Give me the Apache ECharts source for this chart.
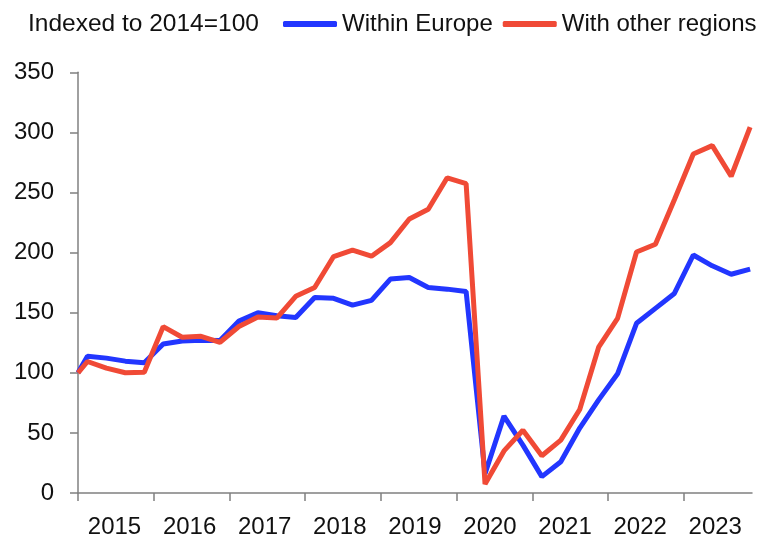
<!DOCTYPE html>
<html>
<head>
<meta charset="utf-8">
<script src="https://cdn.jsdelivr.net/npm/echarts@6/dist/echarts.min.js"></script>
<style>
html,body{margin:0;padding:0;background:#fff;}
#chart{width:765px;height:539px;}
</style>
</head>
<body>
<div id="chart"></div>
<script>
// ---- data ----
const baseLabel = '2014';
const baseValue = 100;
const quarters = [
  '2015Q1','2015Q2','2015Q3','2015Q4',
  '2016Q1','2016Q2','2016Q3','2016Q4',
  '2017Q1','2017Q2','2017Q3','2017Q4',
  '2018Q1','2018Q2','2018Q3','2018Q4',
  '2019Q1','2019Q2','2019Q3','2019Q4',
  '2020Q1','2020Q2','2020Q3','2020Q4',
  '2021Q1','2021Q2','2021Q3','2021Q4',
  '2022Q1','2022Q2','2022Q3','2022Q4',
  '2023Q1','2023Q2','2023Q3','2023Q4'
];
const withinEurope = [
  113.8, 112.2, 109.7, 108.3,
  124.0, 126.5, 127.0, 126.8,
  143.0, 150.0, 147.5, 146.0,
  162.7, 162.0, 156.3, 160.2,
  178.0, 179.3, 171.0, 169.6,
  167.7, 16.0, 64.0, 39.8,
  13.6, 26.0, 54.0, 77.5,
  99.2, 141.2, 153.6, 166.0,
  198.0, 189.0, 182.0, 186.2
];
const withOtherRegions = [
  109.4, 103.9, 100.0, 100.5,
  138.4, 129.6, 130.4, 125.4,
  138.5, 146.5, 145.5, 163.6,
  171.0, 196.7, 202.0, 197.0,
  208.3, 228.0, 236.0, 262.2,
  257.4, 7.5, 35.0, 52.2,
  31.0, 44.0, 69.5, 121.3,
  145.3, 200.5, 206.9, 244.0,
  282.0, 289.0, 263.5, 304.4
];
const years = ['2015','2016','2017','2018','2019','2020','2021','2022','2023'];
const yTicks = [0, 50, 100, 150, 200, 250, 300, 350];
const seriesNames = ['Within Europe', 'With other regions'];
const subtitle = 'Indexed to 2014=100';

// ---- build positions ----
function qPos(label) {
  const y = parseInt(label.slice(0, 4), 10);
  const q = parseInt(label.slice(5), 10);
  return y + (q - 0.5) / 4;
}
const basePos = parseInt(baseLabel, 10) + 1;
function build(vals) {
  const out = [[basePos, baseValue]];
  quarters.forEach((q, i) => out.push([qPos(q), vals[i]]));
  return out;
}
const yearNums = years.map(Number);
const labelPos = yearNums.map(y => y + 0.482 - 0.0084 * (y - yearNums[0]));

const FONT = '"Liberation Sans", Arial, Helvetica, sans-serif';
const TXT = '#111111';
const AX = '#808080';

const chart = echarts.init(document.getElementById('chart'), null, {renderer: 'canvas'});
chart.setOption({
  animation: false,
  backgroundColor: '#ffffff',
  title: {
    text: subtitle,
    left: 28, top: 12, padding: 0,
    textStyle: {fontFamily: FONT, fontSize: 24.5, fontWeight: 'normal', color: TXT}
  },
  legend: {
    data: seriesNames,
    left: 283, right: 0, top: 12, padding: 0,
    icon: 'roundRect',
    itemWidth: 54, itemHeight: 6,
    itemGap: 10,
    textStyle: {fontFamily: FONT, fontSize: 24, color: TXT}
  },
  grid: {left: 78, right: 13, top: 72.3, bottom: 44.3, containLabel: false},
  xAxis: {
    type: 'value',
    min: yearNums[0],
    max: 2023.9,
    splitLine: {show: false},
    axisLine: {show: true, onZero: false, lineStyle: {color: AX, width: 1.5}},
    axisTick: {show: true, inside: false, length: 8, customValues: yearNums, lineStyle: {color: AX, width: 1.5}},
    axisLabel: {
      customValues: labelPos,
      formatter: v => String(Math.floor(v + 0.05)),
      fontFamily: FONT, fontSize: 24, color: TXT, margin: 22
    }
  },
  yAxis: {
    type: 'value',
    min: 0, max: 350, interval: 50,
    splitLine: {show: false},
    axisLine: {show: true, lineStyle: {color: AX, width: 1.5}},
    axisTick: {show: true, inside: false, length: 8, lineStyle: {color: AX, width: 1.5}},
    axisLabel: {
      fontFamily: FONT, fontSize: 24, color: TXT, margin: 24,
      formatter: v => (yTicks.indexOf(v) >= 0 ? String(v) : '')
    }
  },
  series: [
    {
      name: seriesNames[0], type: 'line', data: build(withinEurope),
      showSymbol: false, symbol: 'none',
      color: '#2236FF',
      lineStyle: {width: 5, color: '#2236FF'},
      z: 2
    },
    {
      name: seriesNames[1], type: 'line', data: build(withOtherRegions),
      showSymbol: false, symbol: 'none',
      color: '#F04A36',
      lineStyle: {width: 5, color: '#F04A36'},
      z: 3
    }
  ]
});
</script>
</body>
</html>
